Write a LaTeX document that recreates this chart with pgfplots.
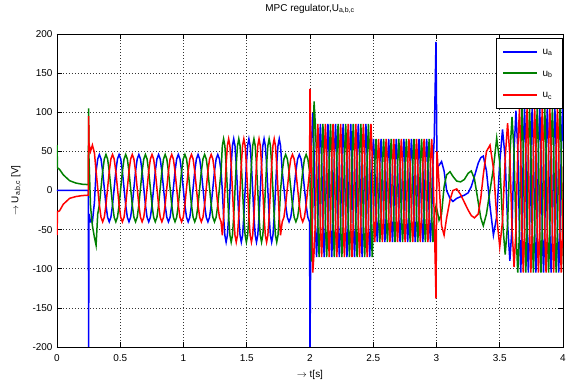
\documentclass[border=0pt]{standalone}
\usepackage{fontspec}
\setmainfont{Liberation Sans}
\usepackage{pgfplots}
\usepackage{pgfplotstable}
\pgfplotsset{compat=1.18}
\definecolor{mblue}{RGB}{0,0,255}
\definecolor{mgreen}{RGB}{0,128,0}
\definecolor{mred}{RGB}{255,0,0}
\pgfplotstableread{
t a b c
0 0 58 -57
0.004 0 29 -27
0.02 0 27 -26
0.05 0 20 -17.5
0.1 0 12.5 -10
0.15 0 9.5 -7.7
0.2 0 8 -6.5
0.248 0 7.5 -6
0.25 -200 105 95
0.253 -30 40 60
0.265 -40 -20 50
0.28 -40 -45 58
0.296 -15 -60 48
0.309 24.5 -70 24.5
0.322 40.2 -30 3
0.335 46 -18.5 -18.5
0.348 40.2 3 -34.2
0.361 24.5 24.5 -40
0.374 3 40.2 -34.2
0.387 -18.5 46 -18.5
0.400 -34.2 40.2 3
0.413 -40 24.5 24.5
0.426 -34.2 3 40.2
0.439 -18.5 -18.5 46
0.452 3 -34.2 40.2
0.465 24.5 -40 24.5
0.478 40.2 -34.2 3
0.491 46 -18.5 -18.5
0.504 40.2 3 -34.2
0.517 24.5 24.5 -40
0.530 3 40.2 -34.2
0.543 -18.5 46 -18.5
0.556 -34.2 40.2 3
0.569 -40 24.5 24.5
0.582 -34.2 3 40.2
0.595 -18.5 -18.5 46
0.608 3 -34.2 40.2
0.621 24.5 -40 24.5
0.634 40.2 -34.2 3
0.647 46 -18.5 -18.5
0.660 40.2 3 -34.2
0.673 24.5 24.5 -40
0.686 3 40.2 -34.2
0.699 -18.5 46 -18.5
0.712 -34.2 40.2 3
0.725 -40 24.5 24.5
0.738 -34.2 3 40.2
0.751 -18.5 -18.5 46
0.764 3 -34.2 40.2
0.777 24.5 -40 24.5
0.790 40.2 -34.2 3
0.803 46 -18.5 -18.5
0.816 40.2 3 -34.2
0.829 24.5 24.5 -40
0.842 3 40.2 -34.2
0.855 -18.5 46 -18.5
0.868 -34.2 40.2 3
0.881 -40 24.5 24.5
0.894 -34.2 3 40.2
0.907 -18.5 -18.5 46
0.920 3 -34.2 40.2
0.933 24.5 -40 24.5
0.946 40.2 -34.2 3
0.959 46 -18.5 -18.5
0.972 40.2 3 -34.2
0.985 24.5 24.5 -40
0.998 3 40.2 -34.2
1.011 -18.5 46 -18.5
1.024 -34.2 40.2 3
1.037 -40 24.5 24.5
1.050 -34.2 3 40.2
1.063 -18.5 -18.5 46
1.076 3 -34.2 40.2
1.089 24.5 -40 24.5
1.102 40.2 -34.2 3
1.115 46 -18.5 -18.5
1.128 40.2 3 -34.2
1.141 24.5 24.5 -40
1.154 3 40.2 -34.2
1.167 -18.5 46 -18.5
1.180 -34.2 40.2 3
1.193 -40 24.5 24.5
1.206 -34.2 3 40.2
1.219 -18.5 -18.5 46
1.232 3 -34.2 40.2
1.245 24.5 -40 24.5
1.258 40.2 -34.2 3
1.271 46 -18.5 -18.5
1.284 40.2 3 -34.2
1.297 24.5 24.5 -40
1.307 0 57.2 -57.2
1.317 -33 66 -33
1.327 -57.2 57.2 0
1.337 -66 33 33
1.347 -57.2 0 57.2
1.357 -33 -33 66
1.367 0 -57.2 57.2
1.377 33 -66 33
1.387 57.2 -57.2 0
1.397 66 -33 -33
1.407 57.2 0 -57.2
1.417 33 33 -66
1.427 0 57.2 -57.2
1.437 -33 66 -33
1.447 -57.2 57.2 0
1.457 -66 33 33
1.467 -57.2 0 57.2
1.477 -33 -33 66
1.487 0 -57.2 57.2
1.497 33 -66 33
1.507 57.2 -57.2 0
1.517 66 -33 -33
1.527 57.2 0 -57.2
1.537 33 33 -66
1.547 0 57.2 -57.2
1.557 -33 66 -33
1.567 -57.2 57.2 0
1.577 -66 33 33
1.587 -57.2 0 57.2
1.597 -33 -33 66
1.607 0 -57.2 57.2
1.617 33 -66 33
1.627 57.2 -57.2 0
1.637 66 -33 -33
1.647 57.2 0 -57.2
1.657 33 33 -66
1.667 0 57.2 -57.2
1.677 -33 66 -33
1.687 -57.2 57.2 0
1.697 -66 33 33
1.707 -57.2 0 57.2
1.717 -33 -33 66
1.727 0 -57.2 57.2
1.737 33 -66 33
1.747 57.2 -57.2 0
1.757 66 -33 -33
1.767 57.2 0 -57.2
1.7805 24.5 24.5 -40
1.794 3 40.2 -34.2
1.8075 -18.5 46 -18.5
1.821 -34.2 40.2 3
1.8345 -40 24.5 24.5
1.848 -34.2 3 40.2
1.8615 -18.5 -18.5 46
1.875 3 -34.2 40.2
1.8885 24.5 -40 24.5
1.902 40.2 -34.2 3
1.9155 46 -18.5 -18.5
1.929 40.2 3 -34.2
1.9425 24.5 24.5 -40
1.956 3 40.2 -34.2
1.9695 -18.5 46 -18.5
1.983 -34.2 40.2 3
1.9965 -40 24.5 24.5
2.000 -200 10 130
2.012 60 -91 20
2.022 99 -20 -105
2.032 50 114 -80
2.042 -42.5 85 -42.5
2.052 -85 42.5 42.5
2.062 -42.5 -42.5 85
2.072 42.5 -85 42.5
2.082 85 -42.5 -42.5
2.092 42.5 42.5 -85
2.102 -42.5 85 -42.5
2.112 -85 42.5 42.5
2.122 -42.5 -42.5 85
2.132 42.5 -85 42.5
2.142 85 -42.5 -42.5
2.152 42.5 42.5 -85
2.162 -42.5 85 -42.5
2.172 -85 42.5 42.5
2.182 -42.5 -42.5 85
2.192 42.5 -85 42.5
2.202 85 -42.5 -42.5
2.212 42.5 42.5 -85
2.222 -42.5 85 -42.5
2.232 -85 42.5 42.5
2.242 -42.5 -42.5 85
2.252 42.5 -85 42.5
2.262 85 -42.5 -42.5
2.272 42.5 42.5 -85
2.282 -42.5 85 -42.5
2.292 -85 42.5 42.5
2.302 -42.5 -42.5 85
2.312 42.5 -85 42.5
2.322 85 -42.5 -42.5
2.332 42.5 42.5 -85
2.342 -42.5 85 -42.5
2.352 -85 42.5 42.5
2.362 -42.5 -42.5 85
2.372 42.5 -85 42.5
2.382 85 -42.5 -42.5
2.392 42.5 42.5 -85
2.402 -42.5 85 -42.5
2.412 -85 42.5 42.5
2.422 -42.5 -42.5 85
2.432 42.5 -85 42.5
2.442 85 -42.5 -42.5
2.452 42.5 42.5 -85
2.462 -42.5 85 -42.5
2.472 -85 42.5 42.5
2.482 -42.5 -42.5 85
2.492 42.5 -85 42.5
2.502 66 -33 -33
2.512 33 33 -66
2.522 -33 66 -33
2.532 -66 33 33
2.542 -33 -33 66
2.552 33 -66 33
2.562 66 -33 -33
2.572 33 33 -66
2.582 -33 66 -33
2.592 -66 33 33
2.602 -33 -33 66
2.612 33 -66 33
2.622 66 -33 -33
2.632 33 33 -66
2.642 -33 66 -33
2.652 -66 33 33
2.662 -33 -33 66
2.672 33 -66 33
2.682 66 -33 -33
2.692 33 33 -66
2.702 -33 66 -33
2.712 -66 33 33
2.722 -33 -33 66
2.732 33 -66 33
2.742 66 -33 -33
2.752 33 33 -66
2.762 -33 66 -33
2.772 -66 33 33
2.782 -33 -33 66
2.792 33 -66 33
2.802 66 -33 -33
2.812 33 33 -66
2.822 -33 66 -33
2.832 -66 33 33
2.842 -33 -33 66
2.852 33 -66 33
2.862 66 -33 -33
2.872 33 33 -66
2.882 -33 66 -33
2.892 -66 33 33
2.902 -33 -33 66
2.912 33 -66 33
2.922 66 -33 -33
2.932 33 33 -66
2.942 -33 66 -33
2.952 -66 33 33
2.962 -33 -33 66
2.972 33 -66 33
2.982 66 -33 -33
2.996 190 -20 -138
3.004 30 -25 50
3.020 32 -38 10
3.040 37 -30 -45
3.060 25 5 -57
3.080 0 20 -35
3.107 -10 24 -12
3.130 -14 18 0
3.160 -10 12 2
3.190 -8 11 -5
3.220 -6 14 -15
3.250 -3 22 -25
3.275 5 25 -32
3.300 18 15 -35
3.330 35 -15 -30
3.350 42 -35 -10
3.370 44 -45 20
3.395 25 -30 50
3.423 -20 0 58
3.450 -57 28.5 28.5
3.476 -33.5 67 -33.5
3.500 36 36 -72
3.522 78 -39 -39
3.543 41 -82 41
3.562 -43 -43 86
3.580 -90 45 45
3.597 -47 94 -47
3.613 49 49 -98
3.628 102 -51 -51
3.6425 52.5 -105 52.5
3.656 -52.5 -52.5 105
3.666 -105 52.5 52.5
3.676 -52.5 105 -52.5
3.686 52.5 52.5 -105
3.696 105 -52.5 -52.5
3.706 52.5 -105 52.5
3.716 -52.5 -52.5 105
3.726 -105 52.5 52.5
3.736 -52.5 105 -52.5
3.746 52.5 52.5 -105
3.756 105 -52.5 -52.5
3.766 52.5 -105 52.5
3.776 -52.5 -52.5 105
3.786 -105 52.5 52.5
3.796 -52.5 105 -52.5
3.806 52.5 52.5 -105
3.816 105 -52.5 -52.5
3.826 52.5 -105 52.5
3.836 -52.5 -52.5 105
3.846 -105 52.5 52.5
3.856 -52.5 105 -52.5
3.866 52.5 52.5 -105
3.876 105 -52.5 -52.5
3.886 52.5 -105 52.5
3.896 -52.5 -52.5 105
3.906 -105 52.5 52.5
3.916 -52.5 105 -52.5
3.926 52.5 52.5 -105
3.936 105 -52.5 -52.5
3.946 52.5 -105 52.5
3.956 -52.5 -52.5 105
3.966 -105 52.5 52.5
3.976 -52.5 105 -52.5
3.986 52.5 52.5 -105
3.996 105 -52.5 -52.5
4.006 52.5 -105 52.5
}\data
\begin{document}
\begin{tikzpicture}
\begin{axis}[
  at={(0,0)}, anchor=south west,
  width=506bp, height=313bp, scale only axis,
  xmin=0, xmax=4, ymin=-200, ymax=200,
  xtick={0,0.5,1,1.5,2,2.5,3,3.5,4},
  ytick={-200,-150,-100,-50,0,50,100,150,200},
  tick align=inside, major tick length=5bp,
  grid=major,
  major grid style={black!80, line width=0.5bp, dash pattern=on 0.7bp off 2.3bp},
  axis line style={black, line width=0.6bp},
  tick style={black, line width=0.6bp},
  /pgf/number format/assume math mode=true,
  ticklabel style={font=\fontsize{10}{12}\selectfont},
  xticklabel style={anchor=base, yshift=-14bp},
  yticklabel style={xshift=-1bp},
  title={MPC regulator,U\textsubscript{a,b,c}},
  title style={font=\fontsize{10}{12}\selectfont, at={(axis description cs:0.5,1)}, anchor=base, yshift=17bp},
  xlabel={$\rightarrow$ t[s]},
  xlabel style={font=\fontsize{10}{12}\selectfont, at={(axis description cs:0.5,0)}, anchor=base, yshift=-30bp},
  ylabel={$\rightarrow$ U\textsubscript{a,b,c} [V]},
  ylabel style={font=\fontsize{10}{12}\selectfont, at={(axis description cs:-0.081,0.5)}, anchor=center},
]
\addplot[draw=mblue, line width=1.5bp] table[x=t, y=a] {\data};
\addplot[draw=mgreen, line width=1.5bp] table[x=t, y=b] {\data};
\addplot[draw=mred, line width=1.5bp] table[x=t, y=c] {\data};
\end{axis}
% legend box (u_a, u_b, u_c)
\begin{scope}[x=1bp, y=1bp]
\fill[white] (439,239) rectangle (505,309);
\draw[black, line width=0.6bp] (439,239) rectangle (505,309);
\fill[blue] (446,294.2) rectangle (480,296.4);
\draw[blue, line width=1.8bp] (446,295.3) -- (480,295.3);
\fill[fill={rgb,255:red,0;green,128;blue,0}] (446,272.9) rectangle (480,274.5);
\fill[fill={rgb,255:red,255;green,0;blue,0}] (446,251.2) rectangle (480,252.8);
\node[anchor=base west, inner sep=0pt, font=\fontsize{10}{12}\selectfont] at (485.5,292.5) {u\textsubscript{a}};
\node[anchor=base west, inner sep=0pt, font=\fontsize{10}{12}\selectfont] at (485.5,270.9) {u\textsubscript{b}};
\node[anchor=base west, inner sep=0pt, font=\fontsize{10}{12}\selectfont] at (485.5,249.2) {u\textsubscript{c}};
\end{scope}
\pgfresetboundingbox
\path (-57bp,-33bp) rectangle (509bp,347bp);
\end{tikzpicture}
\end{document}
